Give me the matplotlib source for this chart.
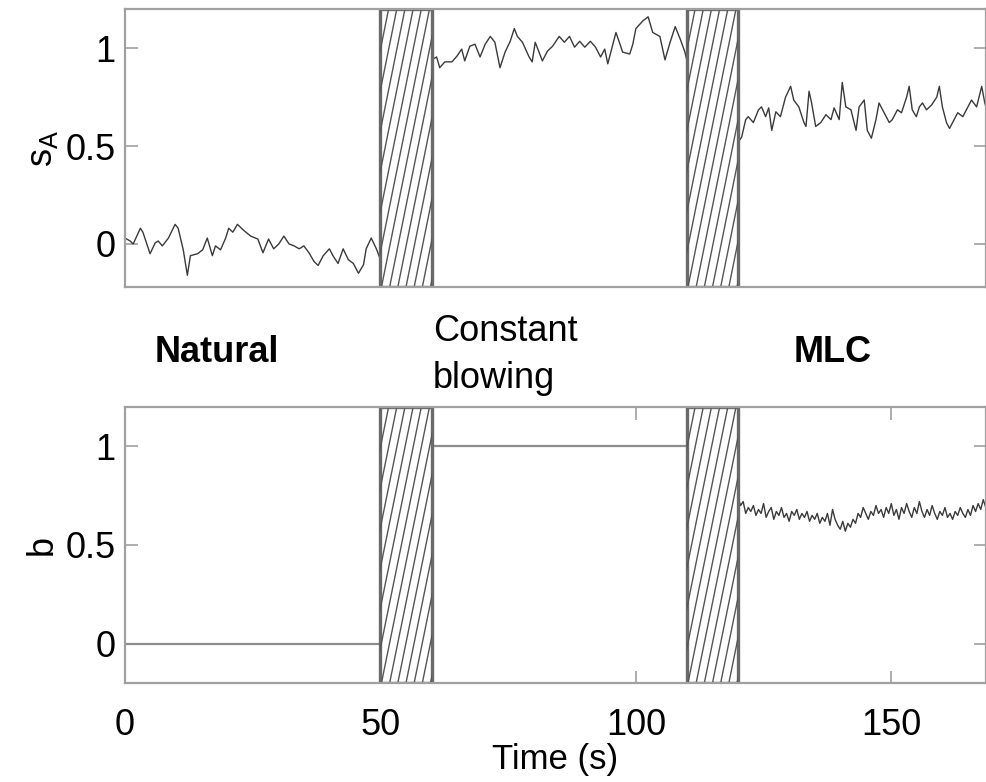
import matplotlib
matplotlib.use('Agg')
import matplotlib.pyplot as plt
from matplotlib.patches import Rectangle
import numpy as np

plt.rcParams['font.family'] = ['Liberation Sans', 'DejaVu Sans']
plt.rcParams['mathtext.fontset'] = 'custom'
plt.rcParams['mathtext.rm'] = 'Liberation Sans'
plt.rcParams['mathtext.it'] = 'Liberation Sans'

# transition periods (hatched)
gaps = [(50, 60), (110, 120)]

# top panel: s_A
nat_t = [0, 1.0, 1.6, 3.0, 3.5, 4.9, 5.9, 6.5, 7.3, 8.5, 9.8, 10.4, 11.4, 12.2, 12.8, 14.2, 15.2, 16.1, 17.1, 17.7,
         18.7, 19.7, 20.3, 21.1, 22.0, 23.2, 24.6, 26.0, 27.0, 28.1, 29.1, 30.1, 31.1, 32.1, 33.1, 34.1, 35.0, 36.0,
         37.0, 37.8, 38.8, 40.0, 40.7, 41.7, 42.7, 43.7, 44.7, 45.7, 46.7, 47.2, 48.2, 49.2, 50.0]
nat_s = [0.03, 0.015, 0.0, 0.08, 0.06, -0.05, 0.005, 0.015, -0.01, 0.03, 0.10, 0.08, -0.03, -0.16, -0.06, -0.05,
         -0.03, 0.03, -0.06, -0.01, -0.03, 0.03, 0.08, 0.06, 0.10, 0.07, 0.04, 0.025, -0.045, 0.025, -0.025, 0.0,
         0.04, 0.0, -0.01, -0.025, -0.01, -0.045, -0.09, -0.11, -0.06, -0.025, -0.06, -0.1, -0.025, -0.08, -0.1,
         -0.15, -0.105, -0.025, 0.03, -0.025, -0.08]

const_t = [60.0, 61.0, 61.6, 62.6, 64.0, 65.0, 65.9, 66.5, 67.5, 68.5, 69.5, 70.5, 71.5, 72.4, 73.4, 74.4, 75.4,
           76.2, 76.8, 77.8, 79.1, 79.7, 80.3, 81.7, 82.7, 83.7, 85.0, 86.0, 87.0, 88.0, 89.0, 90.0, 91.1, 92.1,
           93.1, 93.9, 94.5, 95.1, 96.1, 96.9, 97.4, 98.8, 99.4, 100.0, 101.4, 102.4, 103.3, 104.7, 105.7, 106.7,
           107.7, 108.7, 109.6, 110.0]
const_s = [0.94, 0.955, 0.90, 0.93, 0.93, 0.96, 0.995, 0.935, 1.01, 1.02, 0.955, 1.02, 1.06, 1.03, 0.90, 0.98,
           1.035, 1.10, 1.06, 1.03, 0.955, 0.93, 1.03, 0.935, 0.985, 1.01, 1.06, 1.03, 1.06, 1.005, 1.035, 1.005,
           1.035, 1.005, 0.955, 0.995, 0.92, 0.98, 1.08, 1.02, 0.98, 0.97, 1.02, 1.10, 1.14, 1.16, 1.08, 1.06,
           0.94, 1.03, 1.11, 1.045, 0.98, 0.935]

mlc_t = [120.0, 120.7, 121.5, 122.0, 123.0, 124.0, 124.6, 125.4, 126.0, 126.6, 127.4, 128.3, 129.3, 130.3, 130.9,
         131.9, 132.9, 133.3, 133.9, 134.4, 135.2, 136.2, 137.2, 138.2, 138.8, 139.8, 140.4, 141.1, 142.1, 143.1,
         143.7, 144.7, 145.3, 146.1, 147.0, 147.6, 148.6, 149.6, 150.2, 151.2, 152.0, 153.0, 153.5, 154.1, 154.9,
         155.5, 156.1, 156.9, 157.9, 158.9, 159.4, 160.0, 160.8, 161.4, 162.0, 163.0, 164.0, 165.0, 165.7, 166.7,
         167.7, 168.3, 169.3, 170.0]
mlc_s = [0.52, 0.545, 0.635, 0.65, 0.62, 0.685, 0.70, 0.65, 0.695, 0.58, 0.675, 0.65, 0.75, 0.805, 0.735, 0.70,
         0.62, 0.60, 0.78, 0.72, 0.60, 0.62, 0.66, 0.635, 0.695, 0.635, 0.825, 0.70, 0.685, 0.58, 0.70, 0.735,
         0.58, 0.54, 0.635, 0.72, 0.67, 0.62, 0.635, 0.685, 0.67, 0.75, 0.805, 0.685, 0.65, 0.70, 0.72, 0.685,
         0.71, 0.75, 0.805, 0.70, 0.62, 0.59, 0.62, 0.67, 0.65, 0.70, 0.735, 0.70, 0.805, 0.72, 0.635, 0.66]

# bottom panel: b
b_nat_t = [0, 50]
b_nat = [0, 0]
b_const_t = [60, 110]
b_const = [1, 1]
b_mlc_t = list(np.arange(120.0, 170.01, 0.5))
b_mlc = [0.74, 0.70, 0.72, 0.66, 0.69, 0.67, 0.70, 0.65, 0.68, 0.66, 0.71, 0.64, 0.67, 0.69, 0.63, 0.67, 0.65,
         0.69, 0.64, 0.66, 0.62, 0.67, 0.65, 0.68, 0.63, 0.66, 0.64, 0.67, 0.62, 0.65, 0.63, 0.66, 0.61, 0.64,
         0.62, 0.66, 0.60, 0.68, 0.63, 0.60, 0.58, 0.62, 0.57, 0.61, 0.59, 0.63, 0.61, 0.66, 0.64, 0.69, 0.66,
         0.63, 0.67, 0.65, 0.70, 0.66, 0.68, 0.64, 0.69, 0.66, 0.71, 0.65, 0.68, 0.63, 0.69, 0.66, 0.71, 0.67,
         0.64, 0.69, 0.66, 0.72, 0.67, 0.64, 0.68, 0.65, 0.70, 0.66, 0.63, 0.67, 0.65, 0.69, 0.64, 0.66, 0.63,
         0.67, 0.65, 0.69, 0.66, 0.64, 0.68, 0.65, 0.70, 0.67, 0.71, 0.68, 0.73, 0.69, 0.72, 0.70, 0.71]

xticks = [0, 50, 100, 150]
yticks = [0, 0.5, 1]
phase_labels = ['Natural', 'Constant\nblowing', 'MLC']

spine_col = '#a0a0a0'
line_col = '#3a3a3a'


def hatch_span(ax, x0, x1, y0, y1):
    rect = Rectangle((x0, y0), x1 - x0, y1 - y0, facecolor='white', edgecolor='#6a6a6a', lw=2.4, zorder=3)
    ax.add_patch(rect)
    slant = 11.0
    for xs in np.arange(x0 - slant, x1 + 0.1, 1.6):
        ln, = ax.plot([xs, xs + slant], [y0, y1], color='#555555', lw=1.0, zorder=3.5)
        ln.set_clip_path(rect)


def style_axes(ax, ylim, xlabels):
    ax.set_xlim(0, 168.5)
    ax.set_ylim(*ylim)
    ax.set_yticks(yticks)
    ax.set_yticklabels(['0', '0.5', '1'])
    ax.set_xticks(xticks)
    for s in ax.spines.values():
        s.set_color(spine_col)
        s.set_linewidth(1.6)
        s.set_zorder(4)
    ax.tick_params(axis='y', direction='in', length=9, width=1.2, color=spine_col, labelsize=26, pad=7,
                   left=True, right=True)
    if xlabels:
        ax.tick_params(axis='x', direction='in', length=9, width=1.2, color=spine_col, labelsize=26, pad=18,
                       top=True, bottom=True)
    else:
        ax.tick_params(axis='x', bottom=False, top=False, labelbottom=False)
    for g in gaps:
        hatch_span(ax, g[0], g[1], ylim[0], ylim[1])


fig = plt.figure(figsize=(9.86, 7.82), dpi=100)
ax1 = fig.add_axes([0.1268, 0.633, 0.873, 0.3555])
ax2 = fig.add_axes([0.1268, 0.1266, 0.873, 0.353])

ax1.plot(nat_t, nat_s, color=line_col, lw=1.0)
ax1.plot(const_t, const_s, color=line_col, lw=1.0)
ax1.plot(mlc_t, mlc_s, color=line_col, lw=1.0)
style_axes(ax1, (-0.22, 1.2), False)
ax1.set_ylabel(r'$\mathregular{s_A}$', fontsize=26, labelpad=4)

ax2.plot(b_nat_t, b_nat, color='#8c8c8c', lw=1.6)
ax2.plot(b_const_t, b_const, color='#8c8c8c', lw=1.6)
ax2.plot(b_mlc_t, b_mlc, color=line_col, lw=1.0)
style_axes(ax2, (-0.2, 1.2), True)
ax2.set_ylabel('b', fontsize=26, labelpad=4)
ax2.set_xlabel('Time (s)', fontsize=25, labelpad=0)

fig.text(0.22, 0.549, phase_labels[0], fontsize=26, fontweight='bold', ha='center', va='center')
fig.text(0.439, 0.546, phase_labels[1], fontsize=26, ha='left', va='center', linespacing=1.45)
fig.text(0.844, 0.549, phase_labels[2], fontsize=26, fontweight='bold', ha='center', va='center')

fig.savefig('out.png', dpi=100)
